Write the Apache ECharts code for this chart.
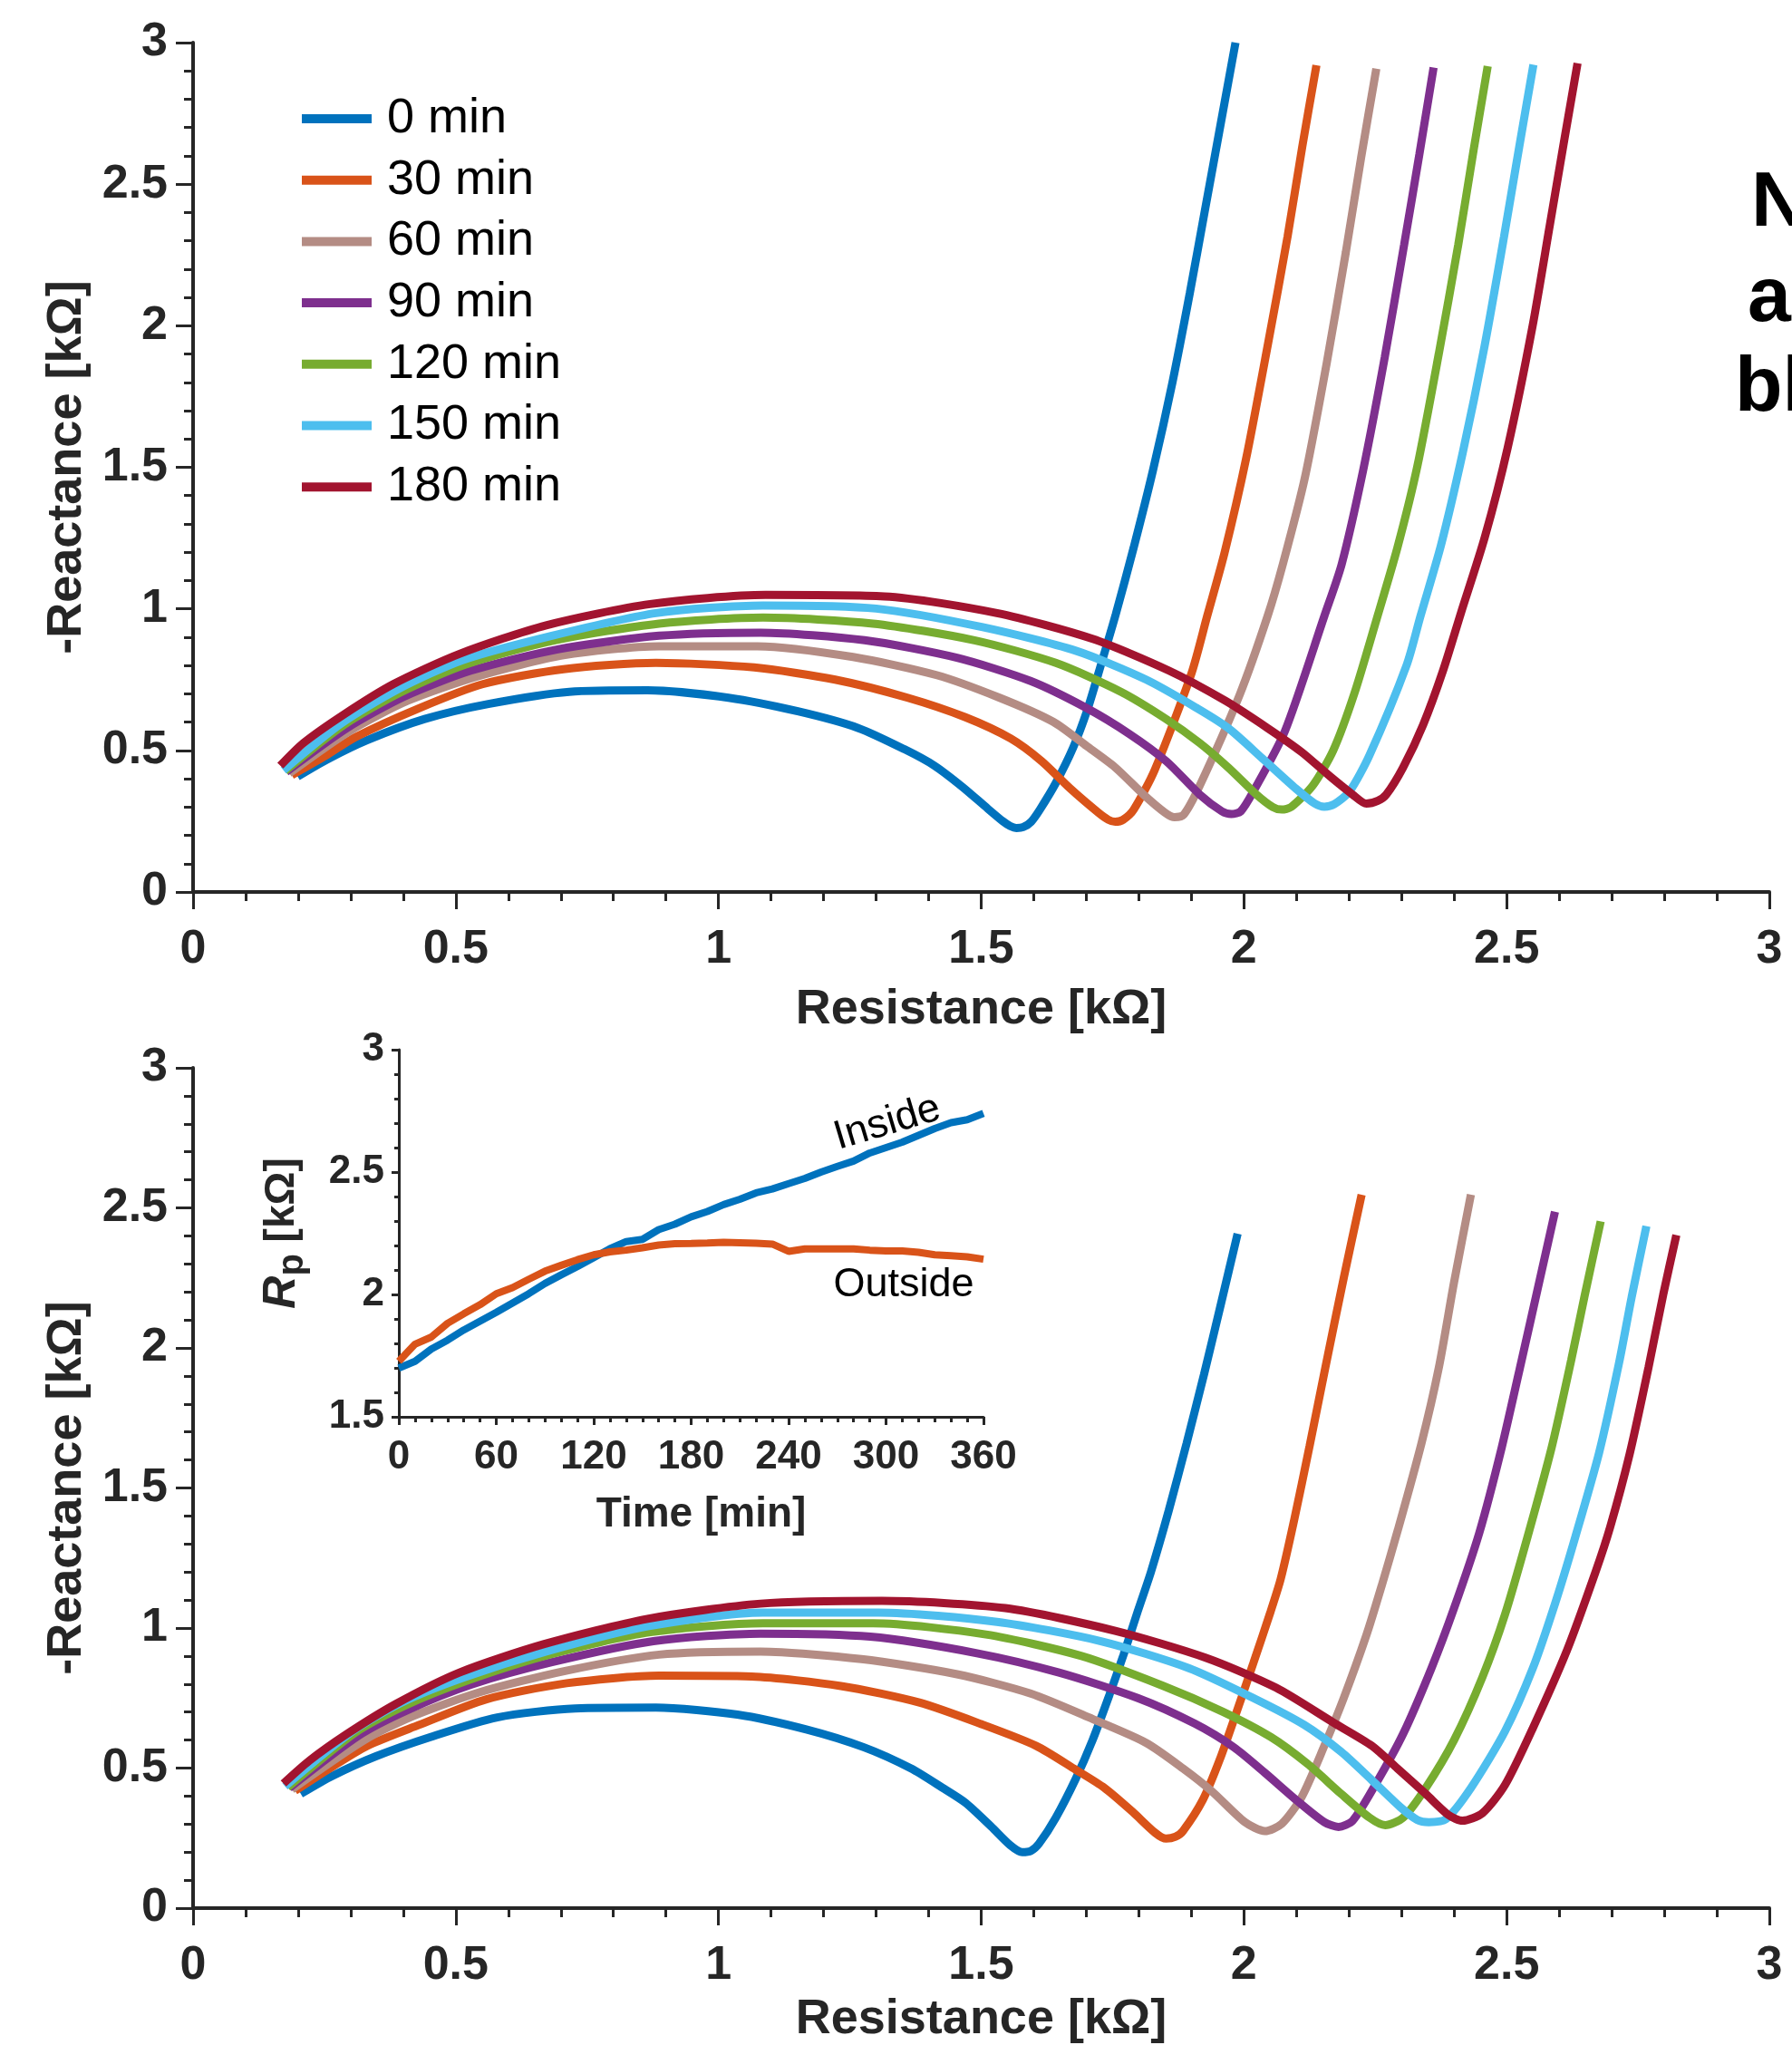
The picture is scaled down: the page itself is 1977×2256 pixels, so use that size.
<!DOCTYPE html>
<html><head><meta charset="utf-8">
<script src="https://cdn.jsdelivr.net/npm/echarts@6/dist/echarts.min.js"></script>
<style>html,body{margin:0;padding:0;background:#fff}#c{width:1977px;height:2256px}</style>
</head><body><div id="c"></div><script>
// ---------- data ----------
const seriesNames = ['0 min', '30 min', '60 min', '90 min', '120 min', '150 min', '180 min'];
const seriesColors = ['#0072BD', '#D95319', '#B48C84', '#7E2F8E', '#77AC30', '#4DBEEE', '#A2142F'];

// Top panel: [Resistance kΩ, -Reactance kΩ]
const top0 = [[0.199,0.408],[0.254,0.467],[0.331,0.536],[0.441,0.611],[0.562,0.664],[0.716,0.707],[0.865,0.712],[1.019,0.686],[1.151,0.638],[1.266,0.579],[1.354,0.504],[1.411,0.446],[1.465,0.370],[1.512,0.295],[1.541,0.250],[1.555,0.233],[1.567,0.226],[1.580,0.229],[1.595,0.248],[1.612,0.292],[1.642,0.385],[1.675,0.510],[1.702,0.643],[1.728,0.803],[1.756,0.980],[1.790,1.215],[1.827,1.490],[1.864,1.800],[1.897,2.115],[1.926,2.410],[1.955,2.705],[1.984,3.0]];
const top30 = [[0.188,0.413],[0.254,0.483],[0.309,0.547],[0.430,0.649],[0.551,0.734],[0.705,0.787],[0.881,0.809],[1.068,0.793],[1.222,0.750],[1.360,0.686],[1.470,0.617],[1.556,0.542],[1.615,0.462],[1.669,0.366],[1.723,0.280],[1.742,0.255],[1.755,0.248],[1.770,0.255],[1.790,0.290],[1.830,0.430],[1.900,0.771],[1.930,0.974],[1.963,1.197],[2.004,1.529],[2.045,1.928],[2.083,2.314],[2.111,2.632],[2.138,2.920]];
const top60 = [[0.183,0.419],[0.298,0.568],[0.408,0.675],[0.540,0.761],[0.705,0.836],[0.887,0.868],[1.074,0.868],[1.256,0.830],[1.415,0.766],[1.535,0.686],[1.637,0.601],[1.701,0.515],[1.755,0.440],[1.809,0.344],[1.850,0.280],[1.868,0.264],[1.885,0.272],[1.916,0.376],[1.992,0.697],[2.045,0.974],[2.074,1.157],[2.116,1.463],[2.157,1.862],[2.194,2.260],[2.223,2.593],[2.252,2.908]];
const top90 = [[0.177,0.424],[0.293,0.579],[0.403,0.691],[0.529,0.782],[0.694,0.857],[0.887,0.905],[1.080,0.916],[1.278,0.889],[1.454,0.827],[1.594,0.745],[1.701,0.649],[1.782,0.558],[1.852,0.462],[1.916,0.344],[1.958,0.285],[1.976,0.275],[1.994,0.285],[2.018,0.355],[2.078,0.568],[2.153,0.974],[2.186,1.157],[2.227,1.490],[2.268,1.888],[2.305,2.287],[2.334,2.606],[2.361,2.912]];
const top120 = [[0.175,0.427],[0.287,0.590],[0.397,0.707],[0.518,0.803],[0.689,0.889],[0.887,0.948],[1.085,0.969],[1.294,0.948],[1.487,0.889],[1.642,0.809],[1.766,0.707],[1.852,0.611],[1.916,0.526],[1.970,0.440],[2.024,0.344],[2.055,0.300],[2.072,0.291],[2.090,0.300],[2.131,0.376],[2.170,0.500],[2.210,0.700],[2.252,0.960],[2.292,1.215],[2.330,1.503],[2.371,1.902],[2.408,2.287],[2.437,2.619],[2.464,2.917]];
const top150 = [[0.172,0.430],[0.282,0.595],[0.392,0.718],[0.513,0.819],[0.683,0.905],[0.881,0.985],[1.085,1.012],[1.300,1.001],[1.503,0.935],[1.680,0.852],[1.814,0.750],[1.911,0.649],[1.970,0.579],[2.035,0.472],[2.099,0.365],[2.135,0.312],[2.153,0.301],[2.172,0.310],[2.201,0.355],[2.239,0.483],[2.310,0.803],[2.336,0.974],[2.375,1.224],[2.417,1.556],[2.458,1.928],[2.495,2.314],[2.524,2.632],[2.551,2.922]];
const top180 = [[0.166,0.446],[0.210,0.526],[0.287,0.627],[0.381,0.734],[0.507,0.841],[0.672,0.942],[0.870,1.017],[1.090,1.049],[1.316,1.044],[1.530,0.985],[1.712,0.894],[1.857,0.782],[1.965,0.675],[2.045,0.579],[2.110,0.494],[2.164,0.408],[2.207,0.344],[2.233,0.312],[2.255,0.322],[2.271,0.344],[2.303,0.440],[2.341,0.590],[2.379,0.782],[2.413,0.985],[2.458,1.250],[2.502,1.569],[2.549,1.995],[2.582,2.353],[2.610,2.659],[2.635,2.927]];

// Bottom panel
const bot0 = [[0.205,0.408],[0.265,0.472],[0.348,0.542],[0.452,0.611],[0.579,0.681],[0.727,0.713],[0.881,0.716],[1.036,0.691],[1.167,0.638],[1.277,0.574],[1.366,0.499],[1.426,0.430],[1.470,0.376],[1.519,0.291],[1.555,0.225],[1.578,0.200],[1.595,0.205],[1.610,0.230],[1.642,0.323],[1.680,0.462],[1.712,0.600],[1.744,0.761],[1.771,0.905],[1.798,1.060],[1.823,1.200],[1.857,1.420],[1.891,1.660],[1.924,1.905],[1.956,2.155],[1.988,2.408]];
const bot30 = [[0.194,0.419],[0.260,0.499],[0.331,0.579],[0.430,0.654],[0.557,0.745],[0.711,0.803],[0.887,0.830],[1.063,0.827],[1.233,0.793],[1.382,0.734],[1.500,0.657],[1.605,0.579],[1.680,0.494],[1.734,0.430],[1.788,0.344],[1.831,0.269],[1.852,0.248],[1.870,0.255],[1.884,0.275],[1.922,0.387],[1.954,0.530],[1.986,0.700],[2.018,0.875],[2.051,1.060],[2.070,1.175],[2.095,1.380],[2.125,1.650],[2.155,1.930],[2.190,2.250],[2.224,2.547]];
const bot60 = [[0.188,0.424],[0.326,0.600],[0.419,0.686],[0.546,0.771],[0.706,0.846],[0.887,0.905],[1.080,0.916],[1.272,0.889],[1.454,0.835],[1.594,0.766],[1.712,0.675],[1.814,0.590],[1.884,0.499],[1.938,0.419],[2.002,0.307],[2.040,0.275],[2.072,0.301],[2.110,0.397],[2.153,0.579],[2.190,0.750],[2.233,0.974],[2.262,1.150],[2.293,1.350],[2.338,1.660],[2.371,1.930],[2.400,2.235],[2.432,2.547]];
const bot90 = [[0.183,0.429],[0.315,0.616],[0.408,0.707],[0.529,0.798],[0.683,0.878],[0.876,0.953],[1.080,0.980],[1.289,0.969],[1.492,0.910],[1.648,0.841],[1.798,0.750],[1.906,0.659],[1.981,0.574],[2.040,0.483],[2.099,0.387],[2.153,0.307],[2.180,0.290],[2.207,0.312],[2.250,0.440],[2.303,0.622],[2.357,0.857],[2.400,1.071],[2.448,1.340],[2.491,1.647],[2.530,1.968],[2.562,2.235],[2.592,2.486]];
const bot120 = [[0.180,0.431],[0.309,0.627],[0.403,0.723],[0.524,0.814],[0.678,0.905],[0.870,0.985],[1.085,1.017],[1.294,1.017],[1.509,0.977],[1.691,0.900],[1.847,0.793],[1.959,0.702],[2.051,0.611],[2.121,0.515],[2.185,0.408],[2.239,0.323],[2.269,0.296],[2.303,0.323],[2.346,0.429],[2.400,0.600],[2.454,0.825],[2.497,1.049],[2.540,1.327],[2.586,1.647],[2.623,1.957],[2.648,2.182],[2.679,2.452]];
const bot150 = [[0.175,0.435],[0.304,0.632],[0.397,0.734],[0.518,0.825],[0.672,0.916],[0.865,1.006],[1.085,1.055],[1.305,1.055],[1.530,1.022],[1.728,0.953],[1.895,0.857],[2.018,0.750],[2.115,0.654],[2.185,0.558],[2.244,0.456],[2.298,0.360],[2.330,0.315],[2.352,0.307],[2.384,0.317],[2.432,0.429],[2.497,0.632],[2.550,0.857],[2.593,1.092],[2.631,1.327],[2.676,1.626],[2.714,1.947],[2.738,2.182],[2.766,2.435]];
const bot180 = [[0.172,0.445],[0.221,0.526],[0.293,0.622],[0.386,0.729],[0.507,0.841],[0.667,0.942],[0.865,1.033],[1.080,1.087],[1.311,1.097],[1.546,1.071],[1.755,0.990],[1.927,0.894],[2.061,0.787],[2.169,0.664],[2.244,0.579],[2.292,0.499],[2.346,0.408],[2.389,0.333],[2.416,0.312],[2.454,0.339],[2.497,0.440],[2.550,0.643],[2.615,0.921],[2.669,1.199],[2.697,1.360],[2.734,1.620],[2.770,1.930],[2.798,2.190],[2.823,2.403]];

// Inset: Rp vs time
const insetTimes = [0,10,20,30,40,50,60,70,80,90,100,110,120,130,140,150,160,170,180,190,200,210,220,230,240,250,260,270,280,290,300,310,320,330,340,350,360];
const insideRp = [1.699,1.727,1.777,1.813,1.855,1.891,1.927,1.965,2.003,2.045,2.080,2.114,2.150,2.187,2.216,2.225,2.265,2.287,2.317,2.339,2.367,2.389,2.415,2.431,2.453,2.474,2.500,2.523,2.545,2.578,2.600,2.622,2.650,2.678,2.702,2.714,2.740];
const outsideRp = [1.727,1.797,1.826,1.882,1.921,1.958,2.003,2.028,2.062,2.095,2.119,2.142,2.162,2.174,2.181,2.191,2.202,2.207,2.208,2.210,2.213,2.211,2.209,2.206,2.176,2.186,2.186,2.186,2.186,2.181,2.178,2.178,2.172,2.162,2.158,2.154,2.144];

const topData = [top0, top30, top60, top90, top120, top150, top180];
const botData = [bot0, bot30, bot60, bot90, bot120, bot150, bot180];

// ---------- styling ----------
const AX = '#262626';
const F = '"Liberation Sans", Arial, Helvetica, sans-serif';
const FN = '"Liberation Sans Narrow", "Arial Narrow", "Liberation Sans", Arial, sans-serif';

function mainX(gi, gap) {
  return {
    type: 'value', gridIndex: gi, min: 0, max: 3, interval: 0.5,
    axisLine: { show: true, onZero: false, lineStyle: { color: AX, width: 4 } },
    axisTick: { show: true, inside: false, length: 19, lineStyle: { color: AX, width: 3 } },
    minorTick: { show: true, splitNumber: 5, length: 10, lineStyle: { color: AX, width: 3 } },
    splitLine: { show: false },
    axisLabel: { fontSize: 52, fontWeight: 'bold', color: AX, fontFamily: F, margin: 38 },
    name: 'Resistance [kΩ]', nameLocation: 'middle', nameGap: gap,
    nameTextStyle: { fontSize: 54, fontWeight: 'bold', color: AX, fontFamily: F }
  };
}
function mainY(gi) {
  return {
    type: 'value', gridIndex: gi, min: 0, max: 3, interval: 0.5,
    axisLine: { show: true, onZero: false, lineStyle: { color: AX, width: 4 } },
    axisTick: { show: true, inside: false, length: 19, lineStyle: { color: AX, width: 3 } },
    minorTick: { show: true, splitNumber: 5, length: 10, lineStyle: { color: AX, width: 3 } },
    splitLine: { show: false },
    axisLabel: { fontSize: 52, fontWeight: 'bold', color: AX, fontFamily: F, margin: 28 },
    name: '-Reactance [kΩ]', nameLocation: 'middle', nameGap: 112, nameRotate: 90,
    nameTextStyle: { fontSize: 54, fontWeight: 'bold', color: AX, fontFamily: F }
  };
}

const series = [];
topData.forEach((d, i) => series.push({
  name: seriesNames[i], type: 'line', xAxisIndex: 0, yAxisIndex: 0, data: d,
  showSymbol: false, symbol: 'none', color: seriesColors[i], smooth: 0.25,
  lineStyle: { width: 9, color: seriesColors[i] }, z: 2 + i
}));
botData.forEach((d, i) => series.push({
  name: seriesNames[i], type: 'line', xAxisIndex: 1, yAxisIndex: 1, data: d,
  showSymbol: false, symbol: 'none', color: seriesColors[i], smooth: 0.25,
  lineStyle: { width: 9, color: seriesColors[i] }, z: 2 + i
}));
series.push({
  name: 'Inside', type: 'line', xAxisIndex: 2, yAxisIndex: 2,
  data: insetTimes.map((t, k) => [t, insideRp[k]]),
  showSymbol: false, symbol: 'none', color: '#0072BD', lineStyle: { width: 8, color: '#0072BD' }, z: 20
});
series.push({
  name: 'Outside', type: 'line', xAxisIndex: 2, yAxisIndex: 2,
  data: insetTimes.map((t, k) => [t, outsideRp[k]]),
  showSymbol: false, symbol: 'none', color: '#D95319', lineStyle: { width: 8, color: '#D95319' }, z: 21
});

const option = {
  backgroundColor: '#ffffff',
  animation: false,
  grid: [
    { left: 213, top: 47, width: 1739, height: 937, containLabel: false },
    { left: 213, top: 1178, width: 1739, height: 936, containLabel: false },
    { left: 440, top: 1158, width: 645, height: 405, containLabel: false, z: 10 }
  ],
  xAxis: [
    mainX(0, 103),
    mainX(1, 96),
    {
      type: 'value', gridIndex: 2, min: 0, max: 360, interval: 60,
      axisLine: { show: true, onZero: false, lineStyle: { color: AX, width: 3 } },
      axisTick: { show: true, inside: false, length: 9, lineStyle: { color: AX, width: 3 } },
      minorTick: { show: true, splitNumber: 6, length: 6, lineStyle: { color: AX, width: 3 } },
      splitLine: { show: false },
      axisLabel: { fontSize: 44, fontWeight: 'bold', color: AX, fontFamily: FN, margin: 23 },
      name: 'Time [min]', nameLocation: 'middle', nameGap: 85,
      nameTextStyle: { fontSize: 46, fontWeight: 'bold', color: AX, fontFamily: F, padding: [0, 0, 0, 22] }
    }
  ],
  yAxis: [
    mainY(0),
    mainY(1),
    {
      type: 'value', gridIndex: 2, min: 1.5, max: 3, interval: 0.5,
      axisLine: { show: true, onZero: false, lineStyle: { color: AX, width: 3 } },
      axisTick: { show: true, inside: false, length: 8, lineStyle: { color: AX, width: 3 } },
      minorTick: { show: true, splitNumber: 5, length: 5, lineStyle: { color: AX, width: 3 } },
      splitLine: { show: false },
      axisLabel: { fontSize: 44, fontWeight: 'bold', color: AX, fontFamily: FN, margin: 16 },
      name: '{r|R}{p|p}{u| [kΩ]}', nameLocation: 'middle', nameGap: 92, nameRotate: 90,
      nameTextStyle: {
        color: AX, fontFamily: F, fontWeight: 'bold', fontSize: 46,
        rich: {
          r: { fontSize: 50, fontStyle: 'italic', fontWeight: 'bold', color: AX, fontFamily: F, padding: [0, 0, 12, 0] },
          p: { fontSize: 40, fontWeight: 'bold', color: AX, fontFamily: F, padding: [12, 0, 0, 0] },
          u: { fontSize: 46, fontWeight: 'bold', color: AX, fontFamily: F, padding: [0, 0, 12, 0] }
        }
      }
    }
  ],
  legend: {
    orient: 'vertical', left: 333, top: 104, padding: 0,
    data: seriesNames, icon: 'rect', itemWidth: 77, itemHeight: 10, itemGap: 13.7,
    textStyle: { fontSize: 54, color: '#000', fontFamily: F, lineHeight: 53, padding: [0, 0, 0, 12] },
    selectedMode: false
  },
  graphic: [
    { type: 'text', left: 1932, top: 182, style: { text: 'N', font: 'bold 86px "Liberation Sans", Arial', fill: '#000' } },
    { type: 'text', left: 1928, top: 287, style: { text: 'a', font: 'bold 86px "Liberation Sans", Arial', fill: '#000' } },
    { type: 'text', left: 1914, top: 386, style: { text: 'bl', font: 'bold 86px "Liberation Sans", Arial', fill: '#000' } },
    { type: 'text', x: 979, y: 1239, rotation: 0.29, z: 50,
      style: { text: 'Inside', font: '45px "Liberation Sans", Arial', fill: '#000', align: 'center', verticalAlign: 'middle' } },
    { type: 'text', x: 997, y: 1418, z: 50,
      style: { text: 'Outside', font: '45px "Liberation Sans", Arial', fill: '#000', align: 'center', verticalAlign: 'middle' } }
  ],
  series: series
};

const chart = echarts.init(document.getElementById('c'), null, { renderer: 'canvas' });
chart.setOption(option);
</script></body></html>
